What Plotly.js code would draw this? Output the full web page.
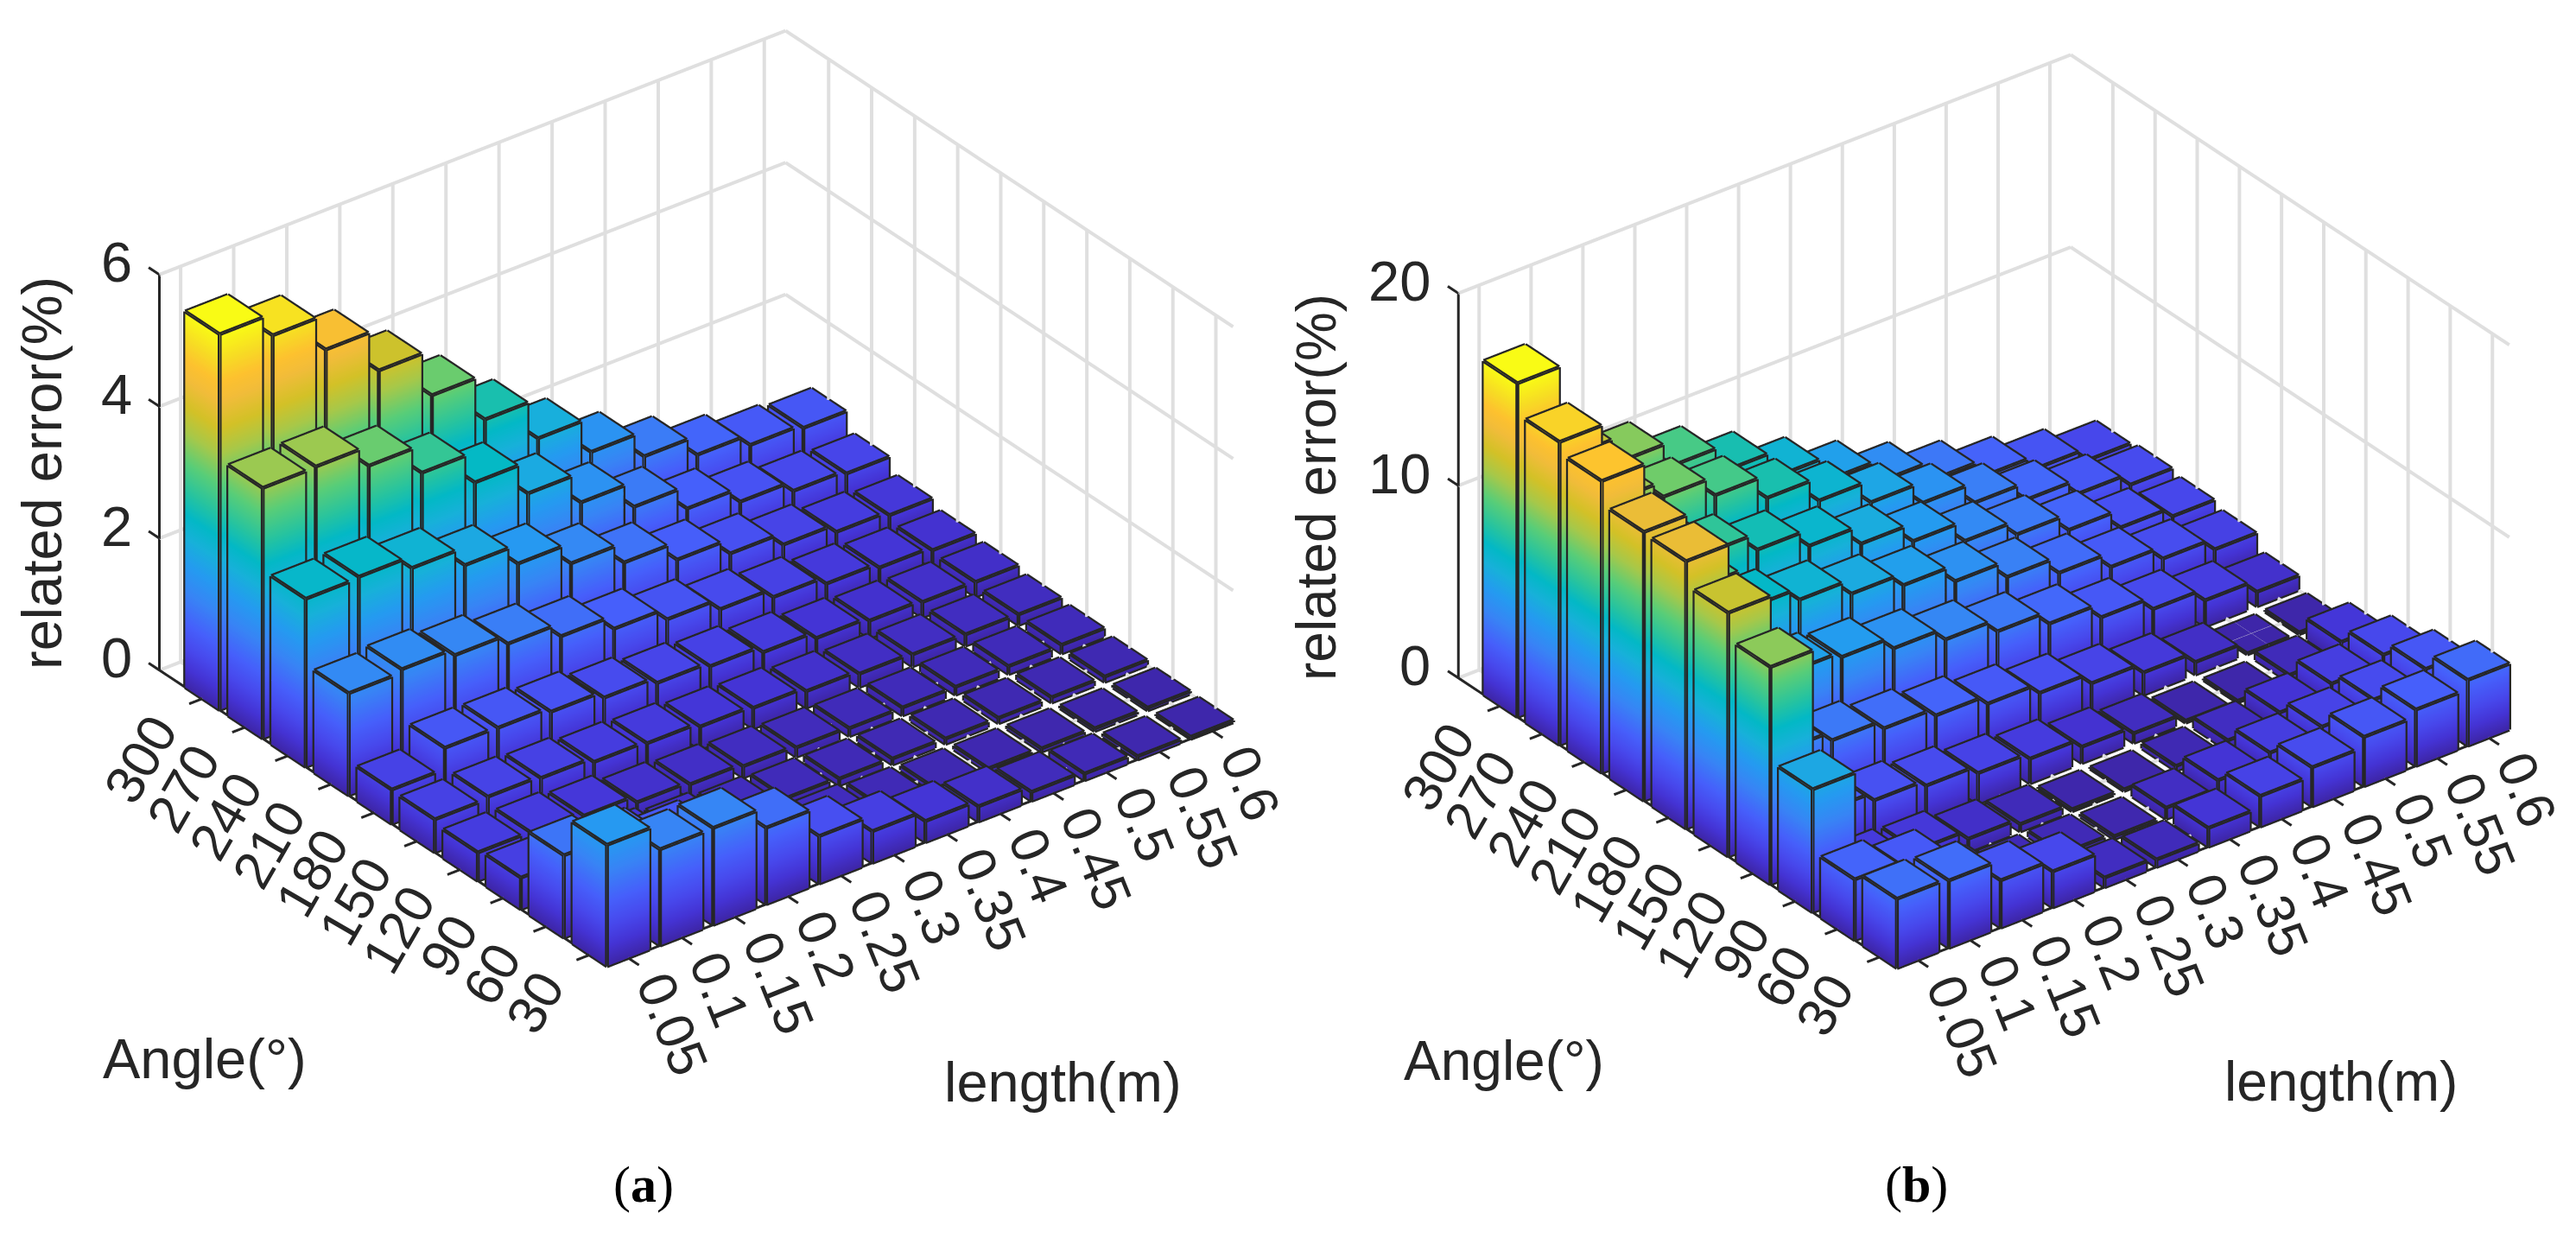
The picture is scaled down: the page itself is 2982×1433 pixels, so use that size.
<!DOCTYPE html>
<html><head><meta charset="utf-8">
<script src="https://cdn.plot.ly/plotly-3.0.1.min.js"></script>
<style>html,body{margin:0;padding:0;background:#fff}#c{width:2982px;height:1433px}</style>
</head><body><div id="c"></div>
<script>
const lengths=["0.05","0.1","0.15","0.2","0.25","0.3","0.35","0.4","0.45","0.5","0.55","0.6"];
const angles=["30","60","90","120","150","180","210","240","270","300"];
// rows = angle (30 … 300), columns = length (0.05 … 0.6)
const errorA=[
[1.84,1.46,1.47,1.16,.72,.48,.32,.23,.135,.10,.05,.03],
[1.25,1.05,.85,.5,.25,.15,.1,.07,.06,.05,.04,.04],
[.48,.36,.3,.22,.15,.12,.1,.09,.08,.08,.08,.08],
[.43,.42,.36,.25,.21,.17,.14,.12,.12,.12,.12,.13],
[.50,.53,.50,.43,.40,.34,.31,.25,.20,.18,.17,.16],
[.52,.84,.83,.76,.66,.57,.51,.41,.31,.26,.23,.22],
[1.55,1.60,1.50,1.36,1.16,.96,.79,.63,.50,.39,.32,.27],
[2.55,2.57,2.39,2.12,1.83,1.52,1.22,.95,.73,.55,.43,.37],
[3.80,3.81,3.51,3.09,2.63,2.15,1.70,1.32,.98,.77,.62,.57],
[5.70,5.37,4.84,4.21,3.52,2.84,2.24,1.72,1.34,1.05,.885,.83]];
const errorB=[
[3.6,3.5,2.46,1.87,.5,.39,.98,1.59,2.03,2.56,2.93,3.42],
[3.16,2.66,.8,.3,.3,.15,.58,.96,1.34,1.64,2.0,2.54],
[6.39,1.23,1.12,.67,.38,.1,.08,.25,.53,.93,1.38,1.83],
[11.3,2.7,2.27,1.98,1.58,1.28,.85,.5,.1,.08,.38,1.05],
[12.67,4.4,3.94,3.51,3.13,2.69,2.2,1.65,1.16,.65,.05,.09],
[13.9,7.5,6.04,5.77,5.17,4.58,3.95,3.3,2.58,1.96,1.36,.75],
[13.97,10,7.9,7.3,6.56,5.95,5.11,4.28,3.44,2.7,2.08,1.51],
[15.17,10.8,9.3,8.45,7.6,6.66,5.74,4.7,3.99,3.17,2.25,1.78],
[15.75,11.6,10.8,9.83,8.64,7.45,6.31,5.23,4.19,3.3,2.56,1.97],
[17.35,12.5,11.2,9.93,8.6,7.26,6.03,4.9,3.93,3.08,2.42,1.81]];
const zTicksA=[0,2,4,6], zTicksB=[0,10,20];
const parula=[[0,'#3e26a8'],[.05,'#4433d4'],[.1,'#4747eb'],[.17,'#465ffb'],[.25,'#3884f5'],[.33,'#249bf0'],[.4,'#17b1d9'],[.46,'#03b8c6'],[.52,'#26c3a0'],[.6,'#59cd78'],[.68,'#a6c84a'],[.75,'#d3c127'],[.82,'#f1bc3a'],[.87,'#fdc12f'],[.93,'#f7dc24'],[1,'#f9fb15']];
const ink='#262626', grid='#dfdfdf';
const BW=0.4, XLO=.6, XHI=12.4, YLO=.6, YHI=11, TICK=.25, PAD=.3;
function segs(list,sc,color,width){
 const x=[],y=[],z=[];
 list.forEach(s=>{x.push(s[0][0],s[1][0],null);y.push(s[0][1],s[1][1],null);z.push(s[0][2],s[1][2],null);});
 return {type:'scatter3d',scene:sc,mode:'lines',x,y,z,line:{color,width},hoverinfo:'skip',showlegend:false};
}
function bars(Z,sc){
 const X=[],Y=[],H=[],I=[],J=[],K=[],E=[];
 Z.forEach((row,r)=>row.forEach((v,c)=>{
  const n=X.length,x=c+1,y=r+1,x0=x-BW,x1=x+BW,y0=y-BW,y1=y+BW;
  const P=[[x0,y0,0],[x1,y0,0],[x1,y1,0],[x0,y1,0],[x0,y0,v],[x1,y0,v],[x1,y1,v],[x0,y1,v]];
  P.forEach(p=>{X.push(p[0]);Y.push(p[1]);H.push(p[2]);});
  [[0,1,2],[0,2,3],[4,5,6],[4,6,7],[0,1,5],[0,5,4],[1,2,6],[1,6,5],[2,3,7],[2,7,6],[3,0,4],[3,4,7]].forEach(t=>{I.push(n+t[0]);J.push(n+t[1]);K.push(n+t[2]);});
  [[0,1],[1,2],[2,3],[3,0],[4,5],[5,6],[6,7],[7,4],[0,4],[1,5],[2,6],[3,7]].forEach(e=>E.push([P[e[0]],P[e[1]]]));
 }));
 const zmax=Math.max(...Z.flat());
 return [{type:'mesh3d',scene:sc,x:X,y:Y,z:H,i:I,j:J,k:K,intensity:H,colorscale:parula,cmin:0,cmax:zmax,showscale:false,flatshading:false,hoverinfo:'skip',
  lighting:{ambient:1,diffuse:0,specular:0,roughness:1,fresnel:0}},segs(E,sc,ink,9)];
}
function frame(zt,sc){
 const top=zt[zt.length-1],G=[],A=[];
 lengths.forEach((_,i)=>{const x=i+1;G.push([[x,YHI,0],[x,YHI,top]],[[x,YLO,0],[x,YHI,0]]);A.push([[x,YLO,0],[x,YLO-TICK,0]]);});
 angles.forEach((_,i)=>{const y=i+1;G.push([[XHI,y,0],[XHI,y,top]],[[XLO,y,0],[XHI,y,0]]);A.push([[XLO,y,0],[XLO-TICK,y,0]]);});
 zt.forEach(z=>{G.push([[XLO,YHI,z],[XHI,YHI,z]],[[XHI,YLO,z],[XHI,YHI,z]]);A.push([[XLO,YHI,z],[XLO,YHI+TICK,z]]);});
 A.push([[XLO,YLO,0],[XHI,YLO,0]],[[XLO,YLO,0],[XLO,YHI,0]],[[XLO,YHI,0],[XLO,YHI,top]]);
 return [segs(G,sc,grid,8),segs(A,sc,ink,6)];
}
const th=37.5*Math.PI/180, el=30.5*Math.PI/180;
function eye(d){return {x:-Math.sin(th)*Math.cos(el)*d,y:-Math.cos(th)*Math.cos(el)*d,z:Math.sin(el)*d};}
function axis(rng){return {range:rng,showticklabels:false,title:{text:''},showgrid:false,showline:false,zeroline:false,ticks:'',showbackground:false,showspikes:false};}
function sceneOf(domx,domy,zt,asp,d){
 const ann=[];
 const f={family:'Liberation Sans',size:62,color:ink};
 lengths.forEach((t,i)=>{const w=t.length>3?120:85;ann.push({x:i+1,y:YLO,z:0,text:t,showarrow:false,textangle:68,font:f,xanchor:'center',yanchor:'middle',xshift:29+w/2*.37,yshift:-(21+w/2*.93)});});
 angles.forEach((t,i)=>{const w=t.length*35;ann.push({x:XLO,y:i+1,z:0,text:t,showarrow:false,textangle:-60,font:f,xanchor:'center',yanchor:'middle',xshift:-46-w/2*.5,yshift:-(25+w/2*.866)});});
 zt.forEach(t=>{ann.push({x:XLO,y:YHI,z:t,text:String(t),showarrow:false,font:{family:'Liberation Sans',size:65,color:ink},xanchor:'right',yanchor:'middle',xshift:-30,yshift:14});});
 return {domain:{x:domx,y:domy},aspectmode:'manual',aspectratio:asp,bgcolor:'rgba(0,0,0,0)',
  camera:{projection:{type:'orthographic'},eye:eye(d),up:{x:0,y:0,z:1},center:{x:0,y:0,z:0}},
  xaxis:axis([XLO-PAD,XHI+PAD]),yaxis:axis([YLO-PAD,YHI+PAD]),zaxis:axis([0,zt[zt.length-1]]),annotations:ann};
}
function txt(t,px,py,size,extra){return Object.assign({xref:'paper',yref:'paper',x:px/2982,y:1-py/1433,text:t,showarrow:false,xanchor:'center',yanchor:'middle',font:{family:'Liberation Sans',size:size,color:ink}},extra||{});}
const data=[...frame(zTicksA,'scene'),...bars(errorA,'scene'),...frame(zTicksB,'scene2'),...bars(errorB,'scene2')];
const layout={width:2982,height:1433,margin:{l:0,r:0,t:0,b:0},paper_bgcolor:'#fff',showlegend:false,
 scene:sceneOf([0,.5406],[.1948,1],zTicksA,{x:1.664,y:1.56,z:.921},3),
 scene2:sceneOf([.5402,1],[.1738,1],zTicksB,{x:1.586,y:1.49,z:.873},3),
 annotations:[txt('related error(%)',48,548,65,{textangle:-90}),txt('Angle(°)',237,1225,65),txt('length(m)',1230,1252,65),
  txt('related error(%)',1524,564,64,{textangle:-90}),txt('Angle(°)',1741,1228,64),txt('length(m)',2710,1252,64),
  txt('(<b>a</b>)',745,1371,60,{font:{family:'Liberation Serif',size:60,color:'#000'}}),txt('(<b>b</b>)',2218,1371,60,{font:{family:'Liberation Serif',size:60,color:'#000'}})]};
Plotly.newPlot('c',data,layout,{displayModeBar:false});
</script></body></html>
